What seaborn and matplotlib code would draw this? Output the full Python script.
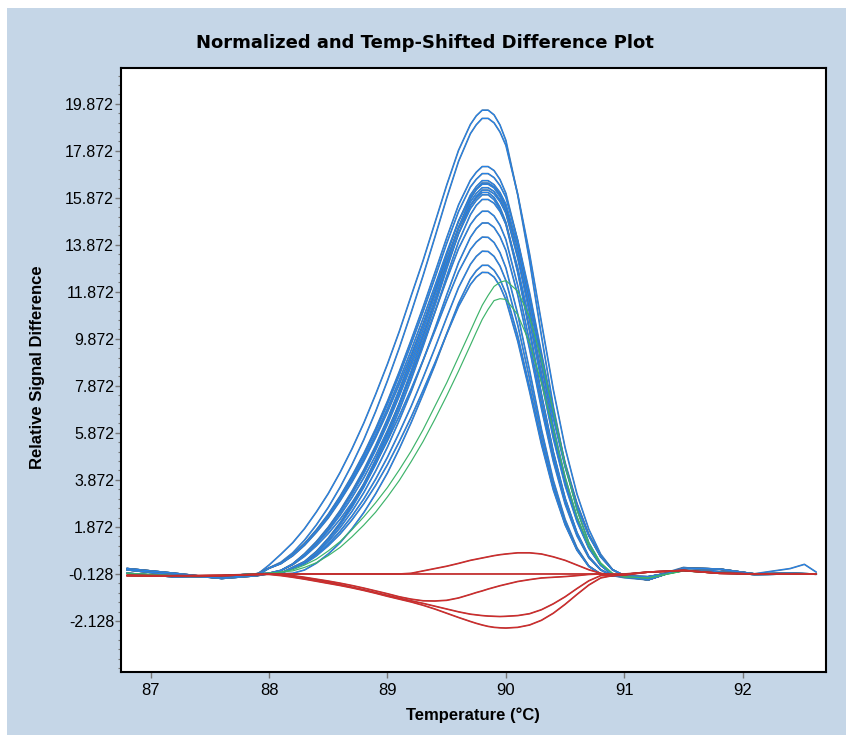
import matplotlib
matplotlib.use("Agg")
import matplotlib.pyplot as plt
import matplotlib.patheffects as pe
from matplotlib.patches import Rectangle
from matplotlib.ticker import FixedLocator
import numpy as np
import pandas as pd
import seaborn as sns

# temperature grid (deg C) shared by every melt curve
temps = [86.8, 87.2, 87.6, 87.9,
         88.0, 88.1, 88.2, 88.3, 88.4, 88.5, 88.6, 88.7, 88.8, 88.9,
         89.0, 89.1, 89.2, 89.3, 89.4, 89.5, 89.6, 89.7, 89.75, 89.8, 89.85,
         89.9, 89.95, 90.0, 90.1, 90.2, 90.3, 90.4, 90.5, 90.6, 90.7, 90.8,
         90.9, 91.0, 91.2, 91.5, 91.8, 92.1, 92.4, 92.52, 92.62]

# blue group
blue_01 = [0.05, -0.18, -0.30, -0.15, 0.25, 0.71, 1.20, 1.80, 2.51, 3.29, 4.19, 5.19, 6.29, 7.51, 8.80, 10.19, 11.70, 13.19, 14.80, 16.41, 17.89, 18.99, 19.36, 19.60, 19.60, 19.40, 18.97, 18.31, 15.99, 13.19, 10.00, 7.00, 4.51, 2.61, 1.20, 0.29, -0.20, -0.29, -0.38, 0.12, 0.08, -0.13, -0.10, -0.12, -0.13]
blue_02 = [-0.10, -0.25, -0.22, -0.12, 0.13, 0.37, 0.77, 1.31, 1.96, 2.70, 3.56, 4.52, 5.58, 6.78, 8.09, 9.49, 10.99, 12.55, 14.19, 15.86, 17.42, 18.60, 18.98, 19.25, 19.25, 19.06, 18.67, 18.10, 16.02, 13.48, 10.57, 7.72, 5.24, 3.27, 1.77, 0.71, 0.06, -0.23, -0.30, 0.15, -0.02, -0.12, 0.10, 0.28, -0.05]
blue_03 = [0.10, -0.10, -0.32, -0.20, 0.12, 0.33, 0.69, 1.17, 1.75, 2.41, 3.18, 4.04, 4.99, 6.05, 7.22, 8.48, 9.82, 11.21, 12.68, 14.17, 15.57, 16.62, 16.96, 17.20, 17.20, 17.03, 16.65, 16.06, 14.04, 11.58, 8.77, 6.14, 3.96, 2.29, 1.05, 0.26, -0.17, -0.26, -0.25, 0.02, -0.05, -0.15, -0.13, -0.13, -0.14]
blue_04 = [0.05, -0.18, -0.30, -0.15, 0.12, 0.32, 0.68, 1.15, 1.72, 2.37, 3.13, 3.97, 4.90, 5.95, 7.10, 8.33, 9.65, 11.02, 12.46, 13.93, 15.29, 16.33, 16.66, 16.90, 16.90, 16.73, 16.39, 15.89, 14.06, 11.83, 9.28, 6.78, 4.60, 2.87, 1.55, 0.63, 0.05, -0.20, -0.38, 0.12, 0.08, -0.13, -0.10, -0.12, -0.13]
blue_05 = [-0.10, -0.25, -0.22, -0.12, -0.10, 0.02, 0.30, 0.73, 1.25, 1.86, 2.57, 3.39, 4.30, 5.33, 6.47, 7.72, 9.05, 10.46, 11.94, 13.45, 14.87, 15.99, 16.35, 16.60, 16.60, 16.43, 16.10, 15.60, 13.81, 11.62, 9.11, 6.66, 4.52, 2.82, 1.53, 0.61, 0.05, -0.20, -0.25, 0.02, -0.05, -0.15, -0.13, -0.13, -0.14]
blue_06 = [0.10, -0.10, -0.32, -0.20, 0.12, 0.31, 0.66, 1.12, 1.68, 2.30, 3.04, 3.87, 4.77, 5.79, 6.91, 8.11, 9.39, 10.73, 12.12, 13.55, 14.89, 15.89, 16.22, 16.45, 16.45, 16.29, 15.92, 15.36, 13.42, 11.07, 8.39, 5.87, 3.78, 2.19, 1.00, 0.25, -0.16, -0.25, -0.38, 0.12, 0.08, -0.13, -0.10, -0.12, -0.13]
blue_07 = [0.05, -0.18, -0.30, -0.15, -0.10, 0.02, 0.29, 0.72, 1.22, 1.83, 2.53, 3.33, 4.22, 5.23, 6.36, 7.58, 8.88, 10.27, 11.72, 13.20, 14.60, 15.70, 16.06, 16.30, 16.30, 16.14, 15.78, 15.22, 13.30, 10.97, 8.31, 5.82, 3.75, 2.17, 0.99, 0.24, -0.16, -0.24, -0.25, 0.02, -0.05, -0.15, -0.13, -0.13, -0.14]
blue_08 = [-0.10, -0.25, -0.22, -0.12, -0.12, -0.10, 0.15, 0.39, 0.81, 1.36, 2.01, 2.77, 3.65, 4.65, 5.77, 7.01, 8.34, 9.78, 11.28, 12.85, 14.35, 15.54, 15.94, 16.20, 16.20, 16.04, 15.71, 15.23, 13.48, 11.34, 8.89, 6.50, 4.41, 2.75, 1.49, 0.60, 0.05, -0.19, -0.38, 0.12, 0.08, -0.13, -0.10, -0.12, -0.13]
blue_09 = [0.10, -0.10, -0.32, -0.20, -0.10, 0.02, 0.29, 0.70, 1.20, 1.79, 2.48, 3.26, 4.14, 5.14, 6.24, 7.44, 8.72, 10.08, 11.50, 12.96, 14.34, 15.41, 15.76, 16.00, 16.00, 15.79, 15.38, 14.74, 12.69, 10.19, 7.47, 5.04, 3.07, 1.62, 0.61, 0.05, -0.21, -0.24, -0.25, 0.02, -0.05, -0.15, -0.13, -0.13, -0.14]
blue_10 = [0.05, -0.18, -0.30, -0.15, -0.12, -0.10, 0.14, 0.38, 0.79, 1.33, 1.96, 2.70, 3.56, 4.53, 5.62, 6.84, 8.14, 9.54, 11.00, 12.53, 14.00, 15.15, 15.55, 15.80, 15.80, 15.64, 15.29, 14.76, 12.89, 10.63, 8.06, 5.64, 3.63, 2.10, 0.96, 0.24, -0.16, -0.24, -0.38, 0.12, 0.08, -0.13, -0.10, -0.12, -0.13]
blue_11 = [-0.10, -0.25, -0.22, -0.12, -0.10, 0.02, 0.28, 0.67, 1.15, 1.71, 2.37, 3.12, 3.96, 4.91, 5.97, 7.11, 8.34, 9.64, 11.00, 12.39, 13.71, 14.73, 15.07, 15.30, 15.30, 15.10, 14.70, 14.09, 12.13, 9.75, 7.15, 4.82, 2.94, 1.55, 0.58, 0.05, -0.20, -0.23, -0.25, 0.02, -0.05, -0.15, -0.13, -0.13, -0.14]
blue_12 = [0.10, -0.10, -0.32, -0.20, -0.12, -0.10, 0.13, 0.36, 0.74, 1.24, 1.84, 2.53, 3.33, 4.25, 5.27, 6.41, 7.62, 8.94, 10.30, 11.74, 13.11, 14.19, 14.56, 14.80, 14.80, 14.61, 14.22, 13.63, 11.74, 9.43, 6.91, 4.66, 2.84, 1.49, 0.56, 0.04, -0.19, -0.22, -0.38, 0.12, 0.08, -0.13, -0.10, -0.12, -0.13]
blue_13 = [0.05, -0.18, -0.30, -0.15, -0.10, 0.01, 0.26, 0.62, 1.07, 1.59, 2.20, 2.90, 3.68, 4.56, 5.54, 6.60, 7.74, 8.95, 10.21, 11.50, 12.72, 13.67, 13.99, 14.20, 14.19, 13.97, 13.54, 12.89, 10.92, 8.53, 6.02, 3.86, 2.19, 0.98, 0.21, -0.14, -0.21, -0.21, -0.25, 0.02, -0.05, -0.15, -0.13, -0.13, -0.14]
blue_14 = [-0.10, -0.25, -0.22, -0.12, -0.12, -0.10, 0.12, 0.33, 0.68, 1.14, 1.69, 2.33, 3.06, 3.90, 4.84, 5.89, 7.00, 8.21, 9.47, 10.78, 12.05, 13.04, 13.38, 13.60, 13.59, 13.38, 12.97, 12.35, 10.46, 8.17, 5.77, 3.70, 2.09, 0.94, 0.20, -0.14, -0.20, -0.20, -0.38, 0.12, 0.08, -0.13, -0.10, -0.12, -0.13]
blue_15 = [0.10, -0.10, -0.32, -0.20, -0.12, -0.12, -0.10, 0.04, 0.33, 0.72, 1.20, 1.79, 2.48, 3.28, 4.17, 5.20, 6.31, 7.51, 8.75, 10.09, 11.38, 12.42, 12.77, 13.00, 13.00, 12.79, 12.40, 11.80, 10.00, 7.81, 5.51, 3.54, 2.00, 0.90, 0.20, -0.13, -0.20, -0.20, -0.25, 0.02, -0.05, -0.15, -0.13, -0.13, -0.14]
blue_16 = [0.05, -0.18, -0.30, -0.15, -0.12, -0.10, 0.11, 0.30, 0.64, 1.07, 1.57, 2.17, 2.86, 3.64, 4.52, 5.50, 6.54, 7.67, 8.84, 10.07, 11.25, 12.18, 12.50, 12.70, 12.69, 12.50, 12.11, 11.53, 9.77, 7.63, 5.38, 3.45, 1.96, 0.88, 0.19, -0.13, -0.19, -0.19, -0.38, 0.12, 0.08, -0.13, -0.10, -0.12, -0.13]
blue_17 = [-0.10, -0.25, -0.22, -0.12, 0.11, 0.31, 0.64, 1.09, 1.64, 2.25, 2.98, 3.78, 4.67, 5.67, 6.76, 7.94, 9.19, 10.50, 11.87, 13.27, 14.57, 15.55, 15.87, 16.10, 16.10, 15.89, 15.47, 14.83, 12.77, 10.26, 7.52, 5.07, 3.09, 1.63, 0.61, 0.05, -0.21, -0.24, -0.25, 0.02, -0.05, -0.15, -0.13, -0.13, -0.14]
blue_18 = [0.10, -0.10, -0.32, -0.20, -0.12, -0.10, 0.15, 0.40, 0.83, 1.39, 2.05, 2.82, 3.71, 4.74, 5.87, 7.14, 8.50, 9.97, 11.48, 13.08, 14.62, 15.82, 16.24, 16.50, 16.50, 16.34, 16.01, 15.51, 13.73, 11.55, 9.06, 6.62, 4.49, 2.81, 1.52, 0.61, 0.05, -0.20, -0.38, 0.12, 0.08, -0.13, -0.10, -0.12, -0.13]

# green group
green_01 = [-0.10, -0.20, -0.20, -0.12, -0.10, -0.05, 0.05, 0.25, 0.50, 0.85, 1.25, 1.75, 2.30, 2.90, 3.55, 4.30, 5.10, 6.00, 7.00, 8.00, 9.10, 10.20, 10.76, 11.30, 11.72, 12.10, 12.28, 12.35, 11.90, 10.80, 9.00, 6.80, 4.50, 2.60, 1.20, 0.35, -0.10, -0.25, -0.30, 0.00, -0.10, -0.13, -0.13, -0.13, -0.13]
green_02 = [-0.10, -0.20, -0.20, -0.12, -0.10, -0.05, 0.00, 0.15, 0.35, 0.65, 1.00, 1.45, 1.95, 2.50, 3.15, 3.85, 4.65, 5.50, 6.45, 7.45, 8.50, 9.60, 10.16, 10.70, 11.13, 11.50, 11.58, 11.55, 10.90, 9.70, 8.00, 6.00, 4.00, 2.30, 1.05, 0.30, -0.10, -0.25, -0.30, 0.00, -0.10, -0.13, -0.13, -0.13, -0.13]

# red group
red_01 = [-0.20, -0.22, -0.20, -0.15, -0.13, -0.13, -0.13, -0.13, -0.13, -0.13, -0.13, -0.13, -0.13, -0.13, -0.13, -0.13, -0.13, -0.13, -0.13, -0.13, -0.13, -0.13, -0.13, -0.13, -0.13, -0.13, -0.13, -0.13, -0.13, -0.13, -0.13, -0.13, -0.13, -0.13, -0.13, -0.13, -0.13, -0.13, -0.05, 0.02, -0.10, -0.13, -0.13, -0.13, -0.13]
red_02 = [-0.18, -0.20, -0.18, -0.14, -0.13, -0.13, -0.13, -0.13, -0.13, -0.13, -0.13, -0.13, -0.13, -0.13, -0.13, -0.13, -0.10, 0.00, 0.10, 0.20, 0.32, 0.45, 0.50, 0.55, 0.60, 0.65, 0.69, 0.72, 0.77, 0.77, 0.72, 0.60, 0.45, 0.25, 0.05, -0.10, -0.18, -0.15, -0.05, 0.02, -0.10, -0.13, -0.13, -0.13, -0.13]
red_03 = [-0.20, -0.22, -0.20, -0.15, -0.13, -0.15, -0.20, -0.27, -0.35, -0.43, -0.52, -0.62, -0.73, -0.85, -0.97, -1.10, -1.20, -1.27, -1.28, -1.25, -1.15, -1.00, -0.92, -0.85, -0.77, -0.70, -0.63, -0.57, -0.45, -0.37, -0.30, -0.27, -0.24, -0.20, -0.15, -0.13, -0.20, -0.18, -0.05, 0.02, -0.10, -0.13, -0.13, -0.13, -0.13]
red_04 = [-0.20, -0.22, -0.20, -0.15, -0.13, -0.16, -0.22, -0.30, -0.39, -0.48, -0.58, -0.69, -0.80, -0.92, -1.04, -1.16, -1.27, -1.38, -1.50, -1.62, -1.74, -1.84, -1.87, -1.90, -1.92, -1.93, -1.94, -1.93, -1.90, -1.82, -1.65, -1.40, -1.10, -0.75, -0.42, -0.20, -0.20, -0.15, -0.05, 0.02, -0.10, -0.13, -0.13, -0.13, -0.13]
red_05 = [-0.20, -0.22, -0.20, -0.15, -0.15, -0.20, -0.27, -0.35, -0.44, -0.53, -0.62, -0.72, -0.83, -0.95, -1.08, -1.20, -1.32, -1.46, -1.62, -1.80, -1.98, -2.15, -2.23, -2.30, -2.36, -2.40, -2.42, -2.43, -2.40, -2.30, -2.10, -1.80, -1.42, -1.00, -0.60, -0.30, -0.20, -0.15, -0.05, 0.02, -0.10, -0.13, -0.13, -0.13, -0.13]

blue_curves = [blue_01, blue_02, blue_03, blue_04, blue_05, blue_06, blue_07, blue_08, blue_09,
               blue_10, blue_11, blue_12, blue_13, blue_14, blue_15, blue_16, blue_17, blue_18]
green_curves = [green_01, green_02]
red_curves = [red_01, red_02, red_03, red_04, red_05]

y_ticks = [-2.128, -0.128, 1.872, 3.872, 5.872, 7.872, 9.872, 11.872, 13.872, 15.872, 17.872, 19.872]
x_ticks = [87, 88, 89, 90, 91, 92]


def to_long(curves, group):
    rows = []
    for k, ys in enumerate(curves):
        assert len(ys) == len(temps), (group, k, len(ys))
        for t, y in zip(temps, ys):
            rows.append({'Temperature': t, 'Signal': y, 'curve': f'{group}_{k}'})
    return pd.DataFrame(rows)


blue_df = to_long(blue_curves, 'blue')
green_df = to_long(green_curves, 'green')
red_df = to_long(red_curves, 'red')

sns.set_theme(style="white")
plt.rcParams['font.family'] = ['Liberation Sans', 'DejaVu Sans']
plt.rcParams['text.color'] = 'black'
plt.rcParams['axes.labelcolor'] = 'black'

fig = plt.figure(figsize=(8.46, 7.35), dpi=100)
fig.patch.set_facecolor('white')
fig.add_artist(Rectangle((7 / 846, 0), 1, 1 - 8 / 735, transform=fig.transFigure,
                         facecolor='#c5d6e7', edgecolor='none', zorder=-1))
ax = fig.add_axes([0.143, 0.0857, 0.833, 0.822])
ax.set_facecolor('white')

# blue curves: bright core with a thin steel-blue edge
n0 = len(ax.lines)
sns.lineplot(data=blue_df, x='Temperature', y='Signal', units='curve', estimator=None,
             sort=False, color='#1a86ff', lw=0.55, ax=ax, legend=False)
for line in ax.lines[n0:]:
    line.set_path_effects([pe.Stroke(linewidth=1.2, foreground='#4a76a0'), pe.Normal()])

sns.lineplot(data=green_df, x='Temperature', y='Signal', units='curve', estimator=None,
             sort=False, color='#3db36a', lw=0.85, ax=ax, legend=False)

n1 = len(ax.lines)
sns.lineplot(data=red_df, x='Temperature', y='Signal', units='curve', estimator=None,
             sort=False, color='#dd2a2a', lw=0.55, ax=ax, legend=False)
for line in ax.lines[n1:]:
    line.set_path_effects([pe.Stroke(linewidth=1.2, foreground='#b03434'), pe.Normal()])

ax.set_xlim(86.75, 92.70)
ax.set_ylim(-4.3, 21.4)

ax.set_yticks(y_ticks)
ax.set_yticklabels([f'{v:.3f}' for v in y_ticks])
ax.yaxis.set_minor_locator(FixedLocator(np.arange(-4.128, 21.4, 0.4)))
ax.set_xticks(x_ticks)
ax.set_xticklabels([str(v) for v in x_ticks])

ax.tick_params(axis='both', which='both', direction='out', color='#777777',
               left=True, bottom=True, labelcolor='black')
ax.tick_params(axis='y', which='major', length=4, width=1, pad=1, labelsize=11.5)
ax.tick_params(axis='y', which='minor', length=2.5, width=0.8)
ax.tick_params(axis='x', which='major', length=4, width=1, pad=4, labelsize=12)

for s in ax.spines.values():
    s.set_visible(True)
    s.set_color('black')
    s.set_linewidth(1.5)

ax.set_xlabel('Temperature (°C)', fontsize=12, fontweight='bold')
ax.xaxis.set_label_coords(0.5, -0.058)
ax.set_ylabel('Relative Signal Difference', fontsize=12, fontweight='bold')
ax.yaxis.set_label_coords(-0.108, 0.505)

fig.text(0.502, 0.9415, 'Normalized and Temp-Shifted Difference Plot', ha='center', va='center',
         fontsize=13, fontweight='bold', family='DejaVu Sans', color='black')

fig.savefig('out.png', dpi=100, facecolor=fig.get_facecolor())
